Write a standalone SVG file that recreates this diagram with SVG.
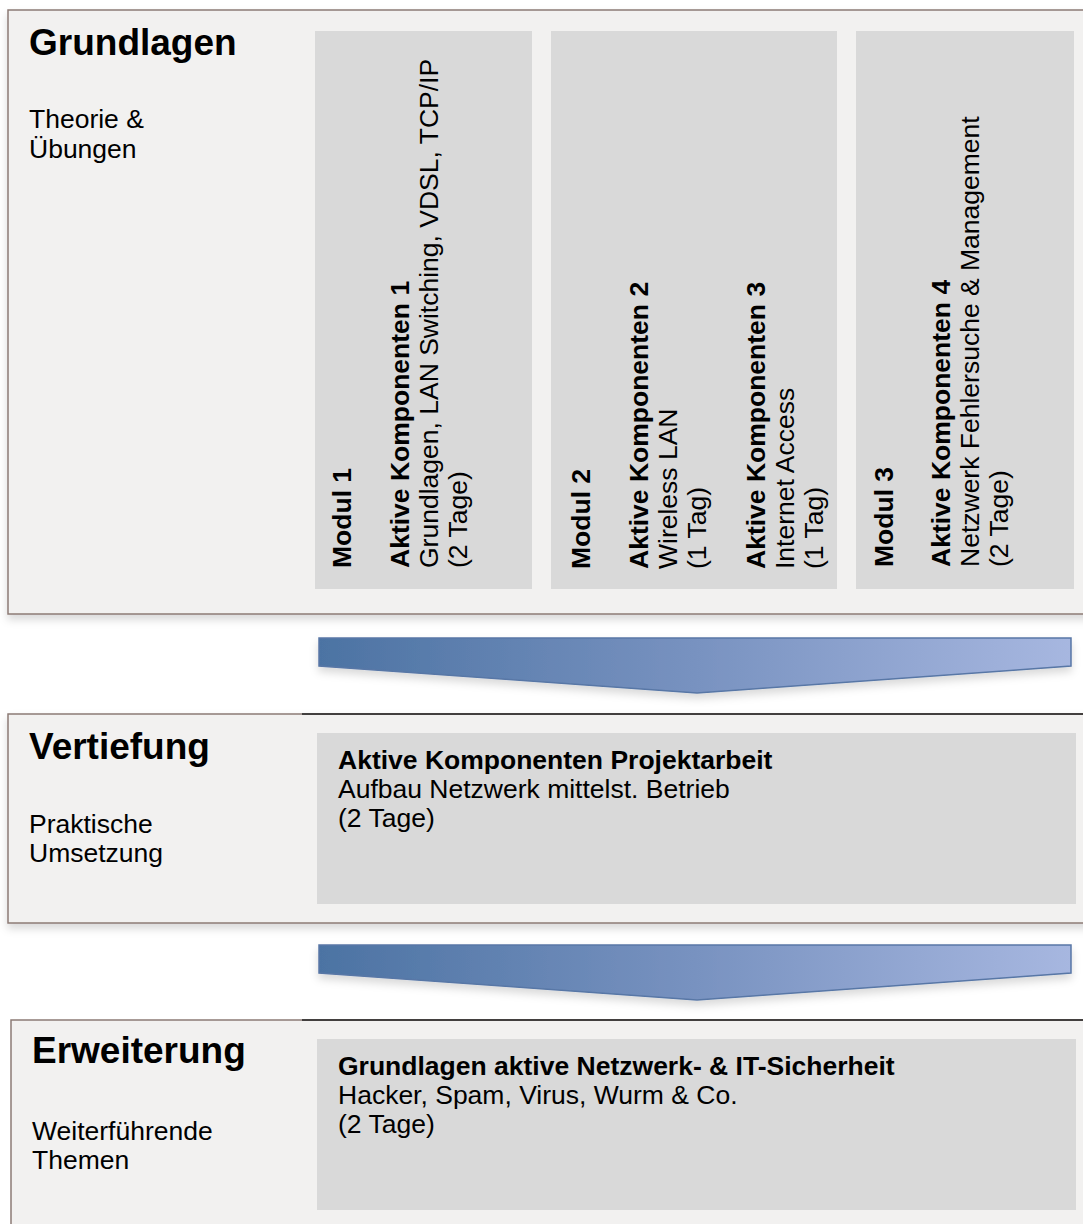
<svg xmlns="http://www.w3.org/2000/svg" width="1083" height="1224" viewBox="0 0 1083 1224">
<defs>
<style>
.panel{fill:#f2f1f0;stroke:#8c7b75;stroke-width:1.5}
.box{fill:#d9d9d9}
.title{font-family:"Liberation Sans",Arial,sans-serif;font-weight:bold;font-size:37px;fill:#000}
.sub{font-family:"Liberation Sans",Arial,sans-serif;font-size:26.5px;fill:#000}
.b{font-weight:bold}
.dark{stroke:#222;stroke-width:1.5}
.arrow{fill:url(#ag);stroke:#5877a6;stroke-width:1.5;filter:url(#sh)}
</style>
<linearGradient id="ag" x1="319" y1="0" x2="1071" y2="0" gradientUnits="userSpaceOnUse">
<stop offset="0" stop-color="#4c73a3"/>
<stop offset="0.5" stop-color="#7892c0"/>
<stop offset="1" stop-color="#a7b7e0"/>
</linearGradient>
<filter id="sh" x="-5%" y="-20%" width="110%" height="160%">
<feDropShadow dx="0" dy="5" stdDeviation="4" flood-color="#000" flood-opacity="0.15"/>
</filter>
</defs>

<g id="grundlagen">
<rect class="panel" x="8" y="10" width="1090" height="604" filter="url(#sh)"/>
<text class="title" x="29" y="55">Grundlagen</text>
<text class="sub" x="29" y="128">Theorie &amp;</text>
<text class="sub" x="29" y="158">Übungen</text>
</g>

<g id="modul1">
<rect class="box" x="315" y="31" width="217" height="558"/>
<g class="sub" transform="translate(0,568) rotate(-90)">
<text class="b" x="0" y="351">Modul 1</text>
<text class="b" x="0" y="409">Aktive Komponenten 1</text>
<text x="0" y="438">Grundlagen, LAN Switching, VDSL, TCP/IP</text>
<text x="0" y="467">(2 Tage)</text>
</g>
</g>

<g id="modul2">
<rect class="box" x="551" y="31" width="286" height="558"/>
<g class="sub" transform="translate(0,569) rotate(-90)">
<text class="b" x="0" y="590">Modul 2</text>
<text class="b" x="0" y="648">Aktive Komponenten 2</text>
<text x="0" y="677">Wireless LAN</text>
<text x="0" y="706">(1 Tag)</text>
<text class="b" x="0" y="765">Aktive Komponenten 3</text>
<text x="0" y="794">Internet Access</text>
<text x="0" y="823">(1 Tag)</text>
</g>
</g>

<g id="modul3">
<rect class="box" x="856" y="31" width="218" height="558"/>
<g class="sub" transform="translate(0,567) rotate(-90)">
<text class="b" x="0" y="893">Modul 3</text>
<text class="b" x="0" y="950">Aktive Komponenten 4</text>
<text x="0" y="979">Netzwerk Fehlersuche &amp; Management</text>
<text x="0" y="1008">(2 Tage)</text>
</g>
</g>

<g id="vertiefung">
<rect class="panel" x="8" y="714" width="1090" height="209" filter="url(#sh)"/>
<line class="dark" x1="302" y1="714" x2="1083" y2="714"/>
<text class="title" x="29" y="759">Vertiefung</text>
<text class="sub" x="29" y="833">Praktische</text>
<text class="sub" x="29" y="862">Umsetzung</text>
</g>

<g id="projektarbeit">
<rect class="box" x="317" y="733" width="759" height="171"/>
<text class="sub b" x="338" y="769">Aktive Komponenten Projektarbeit</text>
<text class="sub" x="338" y="798">Aufbau Netzwerk mittelst. Betrieb</text>
<text class="sub" x="338" y="827">(2 Tage)</text>
</g>

<g id="erweiterung">
<rect class="panel" x="11" y="1020" width="1090" height="220"/>
<line class="dark" x1="302" y1="1020" x2="1083" y2="1020"/>
<text class="title" x="32" y="1063">Erweiterung</text>
<text class="sub" x="32" y="1140">Weiterführende</text>
<text class="sub" x="32" y="1169">Themen</text>
</g>

<g id="sicherheit">
<rect class="box" x="317" y="1039" width="759" height="171"/>
<text class="sub b" x="338" y="1075">Grundlagen aktive Netzwerk- &amp; IT-Sicherheit</text>
<text class="sub" x="338" y="1104">Hacker, Spam, Virus, Wurm &amp; Co.</text>
<text class="sub" x="338" y="1133">(2 Tage)</text>
</g>

<g id="connectors">
<path class="arrow" d="M319,638 L1071,638 L1071,666 L697,693 L319,666 Z"/>
<path class="arrow" d="M319,945 L1071,945 L1071,973 L697,1000 L319,973 Z"/>
</g>
</svg>
